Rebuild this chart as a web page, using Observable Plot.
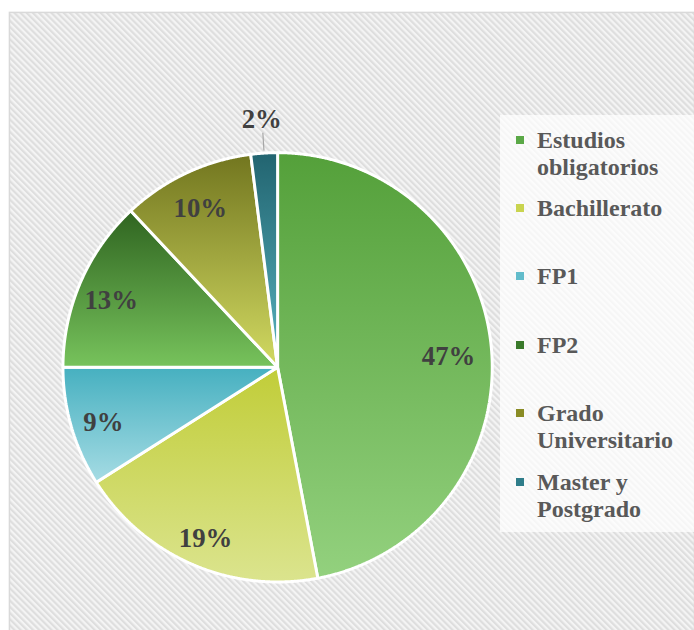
<!DOCTYPE html>
<html><head><meta charset="utf-8">
<script src="https://cdn.jsdelivr.net/npm/d3@7"></script>
<script src="https://cdn.jsdelivr.net/npm/@observablehq/plot@0.6"></script>
<style>
body{margin:0;background:#fff;}
#wrap{position:relative;width:694px;height:630px;overflow:hidden;}
#legend{position:absolute;left:500px;top:115px;width:194px;height:417px;background:rgba(255,255,255,0.72);}
.item{position:absolute;left:0;font-family:"Liberation Serif","Times New Roman",serif;font-weight:bold;font-size:24px;line-height:27px;color:#595959;}
.sw{position:absolute;left:16px;top:9px;width:8px;height:8px;}
.tx{position:absolute;left:37px;top:0;width:155px;}
</style></head>
<body><div id="wrap"></div>
<script>
// ---- data ----
const categories = ["Estudios obligatorios", "Bachillerato", "FP1", "FP2", "Grado Universitario", "Master y Postgrado"];
const values = [47, 19, 9, 13, 10, 2];
const labels = ["47%", "19%", "9%", "13%", "10%", "2%"];
// ---- styles ----
const colorTop = ["#54a03a", "#c1cd38", "#46b0c0", "#2f6420", "#72761f", "#226470"];
const colorBottom = ["#93d17e", "#dbe48e", "#a6dce4", "#77c35c", "#d2da62", "#58b3bf"];
const swatch = ["#5aa846", "#c9d44f", "#62bccb", "#3a7a2b", "#8a8c25", "#2f7d8a"];

// ---- layout ----
const W = 700, H = 636, mL = 9, mT = 12;
const cx = 279.5, cy = 370, R = 216.5;

const rows = categories.map((c, i) => ({category: c, value: values[i], label: labels[i], i}));
const arcs = d3.pie().sort(null).value(d => d.value)(rows);

const slices = arcs.map(p => {
  const ring = [[0, 0]];
  const n = Math.max(4, Math.ceil((p.endAngle - p.startAngle) / 0.004));
  for (let k = 0; k <= n; k++) {
    const a = p.startAngle + (p.endAngle - p.startAngle) * k / n;
    ring.push([Math.sin(a), Math.cos(a)]);
  }
  ring.push([0, 0]);
  return {type: "Feature", properties: {fill: `url(#grad${p.data.i})`}, geometry: {type: "Polygon", coordinates: [ring]}};
});

const labelData = arcs.map(p => {
  const m = (p.startAngle + p.endAngle) / 2;
  const small = p.data.value < 5;
  const r = small ? 1.18 : (p.data.value > 40 ? 0.8 : 0.845);
  return {x: r * Math.sin(m), y: r * Math.cos(m), text: p.data.label, small, m};
});
const leaders = labelData.filter(d => d.small).map(d => ({
  x1: 1.012 * Math.sin(d.m), y1: 1.012 * Math.cos(d.m),
  x2: 1.095 * Math.sin(d.m), y2: 1.095 * Math.cos(d.m)
}));

const domain = {type: "MultiPoint", coordinates: [[(mL - cx) / R, (cy - H) / R], [(W - cx) / R, (cy - mT) / R]]};

const svg = Plot.plot({
  width: W, height: H,
  marginLeft: mL, marginTop: mT, marginRight: 0, marginBottom: 0,
  projection: {type: "reflect-y", domain, inset: 0},
  color: {type: "identity"},
  style: {background: "transparent"},
  marks: [
    Plot.frame({fill: "url(#hatch)", stroke: "#d9d9d9", strokeWidth: 1.5}),
    Plot.geo(slices, {fill: d => d.properties.fill, stroke: "#ffffff", strokeWidth: 3, strokeLinejoin: "miter"}),
    Plot.link(leaders, {x1: "x1", y1: "y1", x2: "x2", y2: "y2", stroke: "#a6a6a6", strokeWidth: 1.2}),
    Plot.text(labelData, {x: "x", y: "y", text: "text", dy: 5, fill: "#404040", fontSize: 27, fontWeight: "bold", fontFamily: "Liberation Serif, Times New Roman, serif"})
  ]
});

const defs = d3.select(svg).insert("defs", ":first-child");
const pat = defs.append("pattern").attr("id", "hatch").attr("patternUnits", "userSpaceOnUse")
  .attr("width", 4.4).attr("height", 4.4).attr("patternTransform", "rotate(-45)");
pat.append("rect").attr("width", 4.4).attr("height", 4.4).attr("fill", "#f4f4f4");
pat.append("rect").attr("width", 2.2).attr("height", 4.4).attr("fill", "#dedede");
colorTop.forEach((c, i) => {
  const g = defs.append("linearGradient").attr("id", `grad${i}`)
    .attr("x1", 0).attr("y1", 0).attr("x2", 0).attr("y2", 1);
  g.append("stop").attr("offset", "0%").attr("stop-color", c);
  g.append("stop").attr("offset", "100%").attr("stop-color", colorBottom[i]);
});

const wrap = document.getElementById("wrap");
wrap.appendChild(svg);
svg.style.position = "absolute"; svg.style.left = "0"; svg.style.top = "0";

const legend = d3.select(wrap).append("div").attr("id", "legend");
categories.forEach((c, i) => {
  const it = legend.append("div").attr("class", "item").style("top", `${140 + i * 68.4 - 13.5 - 115}px`);
  it.append("div").attr("class", "sw").style("background", swatch[i]);
  it.append("div").attr("class", "tx").text(c);
});
</script>
</body></html>
